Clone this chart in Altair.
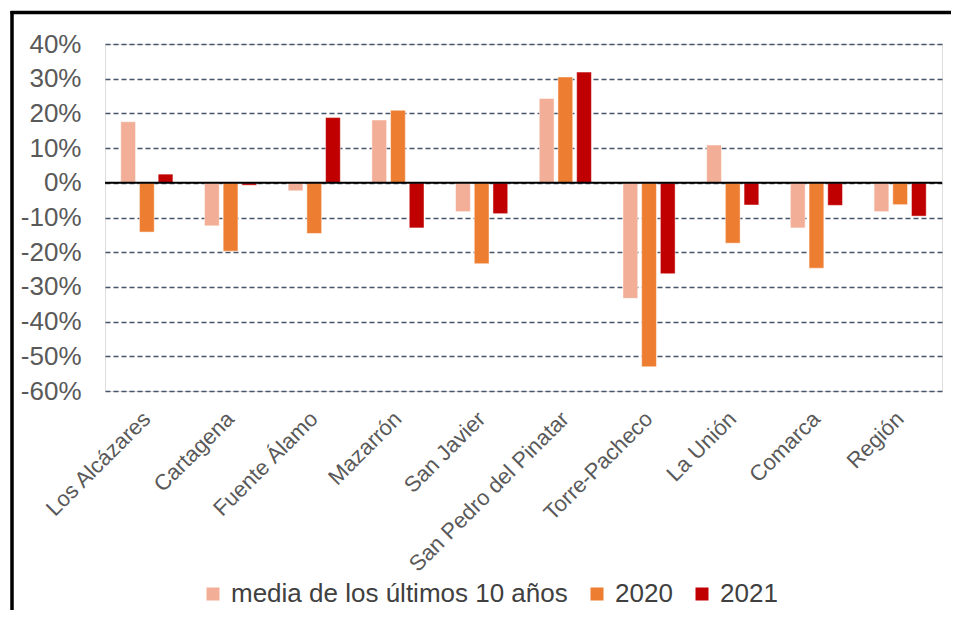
import altair as alt
import pandas as pd

categories = ["Los Alcázares", "Cartagena", "Fuente Álamo", "Mazarrón", "San Javier",
              "San Pedro del Pinatar", "Torre-Pacheco", "La Unión", "Comarca", "Región"]
series = ["media de los últimos 10 años", "2020", "2021"]
media = [17.6, -12.4, -2.3, 18.1, -8.3, 24.3, -33.3, 10.9, -13.0, -8.3]
y2020 = [-14.2, -19.7, -14.6, 20.9, -23.3, 30.5, -53.0, -17.4, -24.6, -6.3]
y2021 = [2.5, -0.7, 18.8, -13.0, -8.9, 31.9, -26.2, -6.4, -6.5, -9.6]
colors = ["#F2AE97", "#ED7D31", "#C00000"]
y_ticks = [40, 30, 20, 10, 0, -10, -20, -30, -40, -50, -60]

rows = []
for s, vals in zip(series, [media, y2020, y2021]):
    for c, v in zip(categories, vals):
        rows.append({"municipio": c, "serie": s, "valor": v})
df = pd.DataFrame(rows)

FONT = "Liberation Sans"
PAD_L, PAD_T, PAD_R, PAD_B = 97, 36, 9, 219
W, H = 837, 347

bars = alt.Chart(df).mark_bar(stroke="white", strokeWidth=0.8, strokeOpacity=0.6).encode(
    x=alt.X("municipio:N", sort=categories, title=None,
            scale=alt.Scale(paddingInner=0.33, paddingOuter=0.165),
            axis=alt.Axis(labelAngle=-45, labelAlign="right", labelBaseline="middle",
                          labelPadding=24, labelFontSize=22, labelColor="#595959",
                          labelFont=FONT, ticks=False, domain=False, grid=False,
                          labelOverlap=False, labelLimit=400)),
    xOffset=alt.XOffset("serie:N", sort=series,
                        scale=alt.Scale(paddingInner=0.21, paddingOuter=0.105)),
    y=alt.Y("valor:Q", title=None,
            scale=alt.Scale(domain=[-60, 40], nice=False, zero=False),
            axis=alt.Axis(values=y_ticks, tickCount=11, labelExpr="datum.value + '%'",
                          labelFontSize=26, labelColor="#595959", labelFont=FONT,
                          labelPadding=24, ticks=False, domain=False,
                          labelOverlap=False, labelBound=False,
                          grid=True, gridColor="#44546A", gridWidth=1.5,
                          gridDash=[5, 3])),
    color=alt.Color("serie:N", sort=series,
                    scale=alt.Scale(domain=series, range=colors),
                    legend=alt.Legend(title=None, orient="none", direction="horizontal",
                                      legendX=95, legendY=537, symbolType="square",
                                      symbolSize=169, symbolStrokeWidth=0,
                                      labelFontSize=26, labelFont=FONT,
                                      labelColor="#404040", labelOffset=5,
                                      columnPadding=16, labelLimit=500)),
)

zero = alt.Chart(pd.DataFrame({"v": [0]})).mark_rule(color="black", strokeWidth=2).encode(
    y=alt.Y("v:Q")
)

frame_top = alt.Chart(pd.DataFrame({"v": [0]})).mark_rule(
    color="black", strokeWidth=3.5
).encode(
    x=alt.value(-94.5), x2=alt.value(W + PAD_R), y=alt.value(-31.5)
)
frame_left = alt.Chart(pd.DataFrame({"v": [0]})).mark_rule(
    color="black", strokeWidth=3.5
).encode(
    x=alt.value(-93), y=alt.value(-33), y2=alt.value(H + PAD_B)
)

chart = alt.layer(bars, zero, frame_top, frame_left).properties(
    width=W, height=H,
    autosize=alt.AutoSizeParams(type="none"),
    padding={"left": PAD_L, "top": PAD_T, "right": PAD_R, "bottom": PAD_B},
).configure_view(stroke=None).configure(background="white")

chart.save("out.html", embed_options={"renderer": "svg", "actions": False})
